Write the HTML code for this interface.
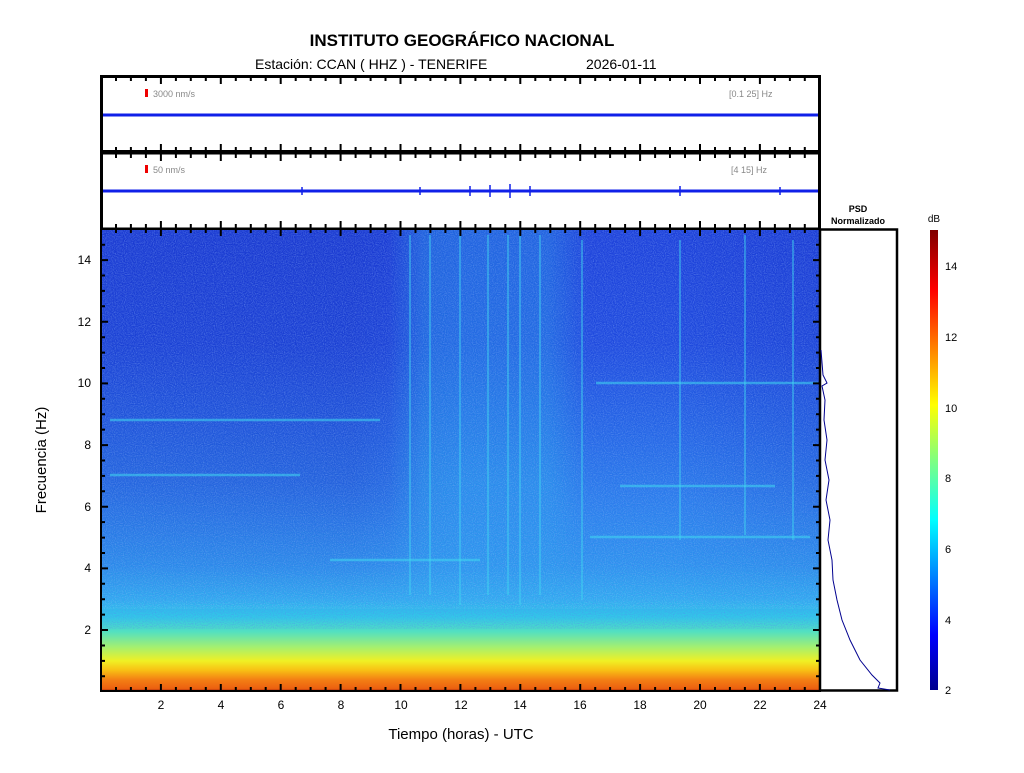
<!DOCTYPE html>
<html><head><meta charset="utf-8"><style>
body{margin:0;background:#fff;}
svg text{font-family:"Liberation Sans",sans-serif;}
</style></head><body>
<svg id="s" width="1024" height="768" viewBox="0 0 1024 768" xmlns="http://www.w3.org/2000/svg">
<defs>
<linearGradient id="sp" x1="0" y1="0" x2="0" y2="1">
<stop offset="0" stop-color="#1c40da"/>
<stop offset="0.25" stop-color="#1e4ade"/>
<stop offset="0.45" stop-color="#2468e6"/>
<stop offset="0.6" stop-color="#2a80ec"/>
<stop offset="0.73" stop-color="#2c94ee"/>
<stop offset="0.8" stop-color="#30acf0"/>
<stop offset="0.84" stop-color="#32c8e8"/>
<stop offset="0.872" stop-color="#54e0c0"/>
<stop offset="0.905" stop-color="#a4f070"/>
<stop offset="0.935" stop-color="#f0f024"/>
<stop offset="0.955" stop-color="#f8c014"/>
<stop offset="0.975" stop-color="#f48014"/>
<stop offset="0.995" stop-color="#ec6010"/>
<stop offset="1" stop-color="#a02008"/>
</linearGradient>
<linearGradient id="mid" x1="0" y1="0" x2="1" y2="0">
<stop offset="0" stop-color="#2ad0f0" stop-opacity="0"/>
<stop offset="0.4" stop-color="#2ad0f0" stop-opacity="0"/>
<stop offset="0.45" stop-color="#2ad0f0" stop-opacity="0.25"/>
<stop offset="0.62" stop-color="#2ad0f0" stop-opacity="0.25"/>
<stop offset="0.68" stop-color="#2ad0f0" stop-opacity="0"/>
<stop offset="1" stop-color="#2ad0f0" stop-opacity="0"/>
</linearGradient>
<linearGradient id="dk" x1="0" y1="0" x2="1" y2="0">
<stop offset="0" stop-color="#1020b0" stop-opacity="0.2"/>
<stop offset="0.35" stop-color="#1020b0" stop-opacity="0.25"/>
<stop offset="0.5" stop-color="#1020b0" stop-opacity="0"/>
<stop offset="0.8" stop-color="#1020b0" stop-opacity="0"/>
<stop offset="1" stop-color="#1020b0" stop-opacity="0.15"/>
</linearGradient>
<linearGradient id="fade" x1="0" y1="0" x2="0" y2="1">
<stop offset="0" stop-color="#fff"/>
<stop offset="0.55" stop-color="#fff"/>
<stop offset="0.82" stop-color="#000"/>
</linearGradient>
<mask id="m" maskUnits="userSpaceOnUse" x="101" y="229" width="719" height="462"><rect x="101" y="229" width="719" height="462" fill="url(#fade)"/></mask>
<linearGradient id="jet" x1="0" y1="1" x2="0" y2="0">
<stop offset="0" stop-color="#00008f"/>
<stop offset="0.12" stop-color="#0000ff"/>
<stop offset="0.37" stop-color="#00ffff"/>
<stop offset="0.5" stop-color="#80ff80"/>
<stop offset="0.62" stop-color="#ffff00"/>
<stop offset="0.87" stop-color="#ff0000"/>
<stop offset="1" stop-color="#800000"/>
</linearGradient>
<filter id="nz" x="0" y="0" width="1" height="1"><feTurbulence type="fractalNoise" baseFrequency="0.9" numOctaves="1" seed="3"/><feColorMatrix values="0 0 0 0 0.1  0 0 0 0 0.2  0 0 0 0 0.9  0 0 0 1.6 -0.65"/></filter>
<filter id="nz2" x="0" y="0" width="1" height="1"><feTurbulence type="fractalNoise" baseFrequency="0.9" numOctaves="1" seed="7"/><feColorMatrix values="0 0 0 0 0.6  0 0 0 0 0.9  0 0 0 0 1  0 0 0 1.6 -0.7"/></filter>
</defs>
<text x="462" y="46" font-size="17" font-weight="bold" text-anchor="middle">INSTITUTO GEOGRÁFICO NACIONAL</text>
<text x="255" y="69" font-size="14">Estación:  CCAN ( HHZ ) - TENERIFE</text>
<text x="586" y="69" font-size="14">2026-01-11</text>

<rect x="101.5" y="76.5" width="718" height="75" fill="#fff" stroke="#000" stroke-width="3"/>
<rect x="101.5" y="153" width="718" height="76" fill="#fff" stroke="#000" stroke-width="3"/>
<rect x="145" y="89" width="3" height="8" fill="#e00"/>
<text x="153" y="97" font-size="9" fill="#888">3000 nm/s</text>
<text x="729" y="97" font-size="9" fill="#888">[0.1 25] Hz</text>
<rect x="145" y="165" width="3" height="8" fill="#e00"/>
<text x="153" y="173" font-size="9" fill="#888">50 nm/s</text>
<text x="731" y="173" font-size="9" fill="#888">[4 15] Hz</text>
<rect x="103" y="113.5" width="715" height="3" fill="#1020e8"/>
<rect x="103" y="189.5" width="715" height="3" fill="#1020e8"/>
<path d="M420 187v8M470 186v10M490 185v12M510 184v14M530 186v10M680 186v10M780 187v8M302 187v8" stroke="#1020e8" stroke-width="1.5"/>

<rect x="101" y="229" width="719" height="462" fill="url(#sp)"/>
<g mask="url(#m)">
<rect x="101" y="229" width="719" height="462" fill="url(#dk)"/>
<rect x="101" y="229" width="719" height="462" fill="url(#mid)"/>
</g>
<rect x="101" y="229" width="719" height="400" filter="url(#nz)" opacity="0.6"/>
<rect x="101" y="229" width="719" height="380" filter="url(#nz2)" opacity="0.35"/>
<g stroke="#40d8f0" stroke-opacity="0.45" stroke-width="2">
<path d="M410 235v360M430 235v360M460 235v370M488 235v360M508 235v360M520 235v370M540 235v360M582 240v360M680 240v300M745 235v300M793 240v300"/>
<path d="M596 383H818M590 537H810M620 486H775M330 560H480M110 420H380M110 475H300" stroke-width="2.5" stroke-opacity="0.55"/>
</g>
<rect x="101" y="229" width="719" height="462" fill="none" stroke="#000" stroke-width="2"/>
<g id="ticks" stroke="#000" stroke-width="2"></g>
<g font-size="12" text-anchor="middle">
<text x="161" y="709">2</text><text x="221" y="709">4</text><text x="281" y="709">6</text><text x="341" y="709">8</text><text x="401" y="709">10</text><text x="461" y="709">12</text><text x="520" y="709">14</text><text x="580" y="709">16</text><text x="640" y="709">18</text><text x="700" y="709">20</text><text x="760" y="709">22</text><text x="820" y="709">24</text>
</g>
<g font-size="12" text-anchor="end">
<text x="91" y="264">14</text><text x="91" y="326">12</text><text x="91" y="387">10</text><text x="91" y="449">8</text><text x="91" y="511">6</text><text x="91" y="572">4</text><text x="91" y="634">2</text>
</g>
<text x="461" y="739" font-size="15" text-anchor="middle">Tiempo (horas) - UTC</text>
<text transform="translate(46 460) rotate(-90)" font-size="15" text-anchor="middle">Frecuencia  (Hz)</text>

<text x="858" y="212" font-size="9" font-weight="bold" text-anchor="middle">PSD</text>
<text x="858" y="224" font-size="9" font-weight="bold" text-anchor="middle">Normalizado</text>
<rect x="820" y="229.5" width="77" height="461" fill="#fff" stroke="#000" stroke-width="2.5"/>
<path d="M821 350 L823 375 L827 383 L822 386 L825 400 L824 420 L827 440 L825 460 L829 480 L826 500 L830 520 L828 540 L832 560 L833 580 L837 600 L842 620 L850 640 L860 660 L872 675 L880 683 L878 688 L890 690" fill="none" stroke="#00008f" stroke-width="1"/>

<text x="934" y="222" font-size="10" text-anchor="middle">dB</text>
<rect x="930" y="230" width="8" height="460" fill="url(#jet)"/>
<g font-size="11">
<text x="945" y="270">14</text><text x="945" y="341">12</text><text x="945" y="412">10</text><text x="945" y="482">8</text><text x="945" y="553">6</text><text x="945" y="624">4</text><text x="945" y="694">2</text>
</g>
</svg>
<script>
var d="";
for(var h=0.5;h<24;h+=0.5){var x=(101+h*29.95).toFixed(1);var maj=(h%2==0);var L=maj?7:4;
d+="M"+x+" 691v-"+L+"M"+x+" 229v"+L+"M"+x+" 77v"+L+"M"+x+" 151v-"+L+"M"+x+" 154v"+L+"M"+x+" 228v-"+L;}
for(var f=0.5;f<15;f+=0.5){var y=(691.7-f*30.83).toFixed(1);var L=(f%2==0)?7:4;
d+="M101 "+y+"h"+L+"M820 "+y+"h-"+L+"M821 "+y+"h"+L+"M896 "+y+"h-"+L;}
var p=document.createElementNS("http://www.w3.org/2000/svg","path");p.setAttribute("d",d);
document.getElementById("ticks").appendChild(p);
</script>
</body></html>
